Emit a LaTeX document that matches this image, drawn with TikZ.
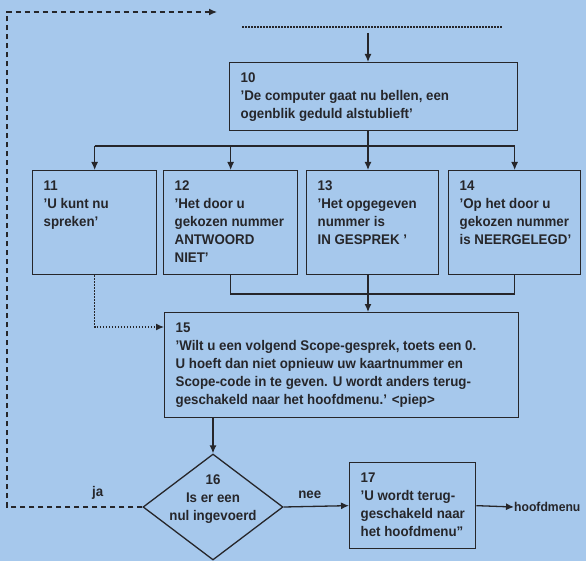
\documentclass[tikz,border=0pt]{standalone}
\usepackage{fontspec}
\setmainfont{Liberation Sans}[FakeStretch=0.95]
\usetikzlibrary{calc,arrows.meta,shapes.geometric}

\definecolor{paper}{RGB}{166,200,236}
\definecolor{ink}{RGB}{38,38,42}
\newcommand{\boxfont}{\bfseries\fontsize{14}{18}\selectfont}
\newcommand{\msgtext}[3]{\makebox[#1][l]{\parbox[c][#2][t]{\dimexpr#1+60pt\relax}{\raggedright\vspace*{10pt}#3}}}

\begin{document}
\begin{tikzpicture}[x=1pt,y=-1pt,
    msg/.style={draw=ink, line width=1.3pt, anchor=north west, inner xsep=11pt, inner ysep=0pt, text=ink, font=\boxfont},
    choice/.style={diamond, draw=ink, line width=1.3pt, inner sep=0pt, minimum width=140pt, minimum height=106pt, text=ink, font=\boxfont},
    lbl/.style={text=ink, font=\boxfont, inner sep=1pt},
    conn/.style={draw=ink, line width=1.3pt},
    arr/.style={conn, -{Latex[length=8pt,width=7pt]}},
    back/.style={arr, dash pattern=on 5pt off 4pt},
    skip/.style={arr, dash pattern=on 1.5pt off 1.5pt}]
	        \fill[paper] (0,0) rectangle (586,561);
	        \useasboundingbox (0,0) rectangle (586,561);
	        % announcements
	        \node[msg] (b10) at (229,62) {\msgtext{266pt}{68pt}{10\\'De computer gaat nu bellen, een\\ogenblik geduld alstublieft'}};
	        \node[msg] (b11) at (32,170) {\msgtext{102pt}{104pt}{11\\'U kunt nu\\spreken'}};
	        \node[msg] (b12) at (163,170) {\msgtext{112pt}{104pt}{12\\'Het door u\\gekozen nummer\\ANTWOORD\\NIET'}};
	        \node[msg] (b13) at (306,170) {\msgtext{110pt}{104pt}{13\\'Het opgegeven\\nummer is\\IN GESPREK '}};
	        \node[msg] (b14) at (448,170) {\msgtext{110pt}{104pt}{14\\'Op het door u\\gekozen nummer\\is NEERGELEGD'}};
	        \node[msg] (b15) at (164,312) {\msgtext{332pt}{105pt}{15\\'Wilt u een volgend Scope-gesprek, toets een 0.\\U hoeft dan niet opnieuw uw kaartnummer en\\Scope-code in te geven. U wordt anders terug-\\geschakeld naar het hoofdmenu.' <piep>}};
	        \node[choice] (d16) at (213,507) {\raisebox{9pt}{\smash{\makebox[0pt]{\parbox{110pt}{\centering 16\\Is er een\\nul ingevoerd}}}}};
	        \node[msg] (b17) at (349,462) {\msgtext{104pt}{86pt}{17\\'U wordt terug-\\geschakeld naar\\het hoofdmenu''}};
	        \node[lbl, anchor=west, inner sep=0pt, font=\bfseries\fontsize{12.8}{18}\selectfont] (menu) at (514,507) {hoofdmenu};
	        \coordinate (start) at (368,33);
	        \coordinate (split) at (368,146);
	        \coordinate (merge) at (368,294);
	        \coordinate (in15) at ($(b15.north west)+(0,15)$);
	        \coordinate (loop) at (7,12);
	        \coordinate (loopend) at (217,12);
	        \draw[conn, dash pattern=on 1.5pt off 1.5pt] (242,27) -- (502,27); % previous step
	        \draw[arr] (start) -- (start |- b10.north);
	        \draw[conn] (split |- b10.south) -- (split);
	        \draw[conn] (b11.north |- split) -- (b14.north |- split);
	        \foreach \n in {11,12,14} \draw[arr] (b\n.north |- split) -- (b\n.north);
	        \draw[arr] (split) -- (split |- b13.north);
	        \draw[conn] (b12.south) |- (merge) -| (b14.south);
	        \draw[arr] (merge |- b13.south) -- (merge |- b15.north);
	        \draw[skip] (b11.south) |- (in15);
	        \draw[arr] (b15.south -| d16.north) -- (d16.north);
	        \draw[arr] (d16.east) -- node[lbl, pos=0.4, above=6pt] {nee} (b17.west);
	        \draw[back] (d16.west) -- node[lbl, pos=0.33, above=6pt] {ja} (loop |- d16.west) |- (loopend); % back to the start
	        \draw[arr] (b17.east) -- (menu.west);
	    \end{tikzpicture}
\end{document}
